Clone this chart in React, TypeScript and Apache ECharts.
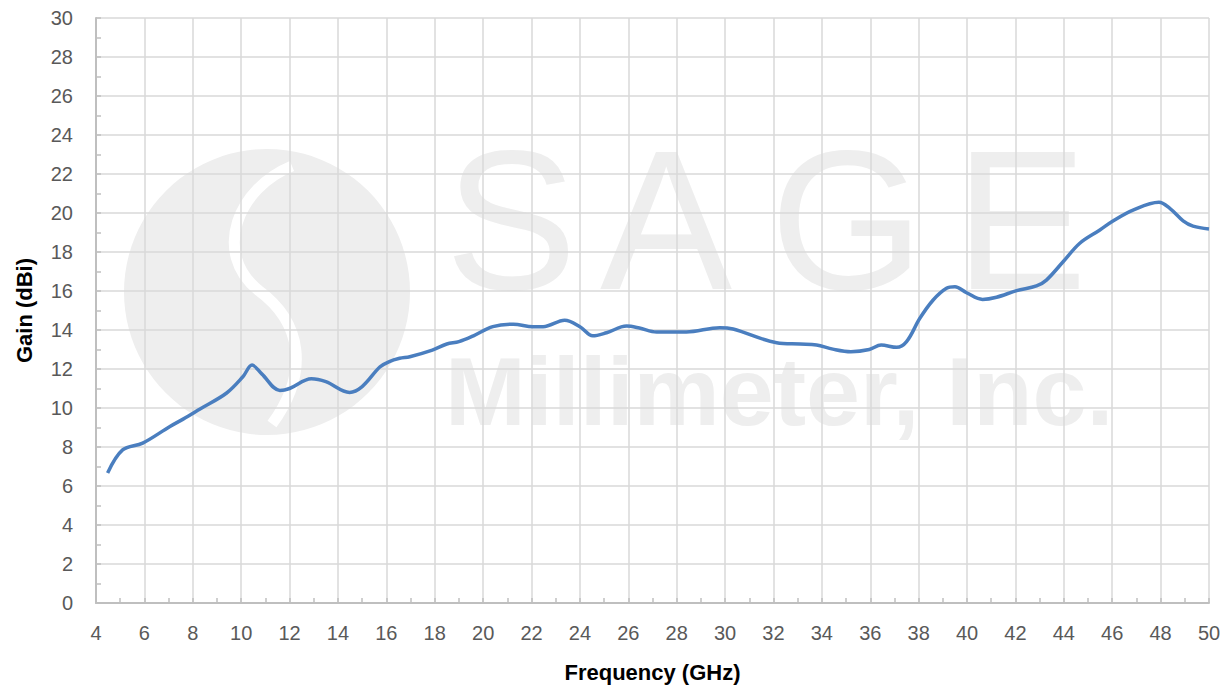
import React, { useEffect, useRef } from "react";
import * as echarts from "echarts";

const freqGHz = [
  4.48, 5.1, 5.93, 7.04, 7.6, 8.3, 9.4, 10.07, 10.45, 10.85, 11.6, 12.0, 12.9, 13.5,
  14.48, 15.0, 15.73, 16.1, 16.55, 16.97, 17.9, 18.5, 19.0, 19.6, 20.4, 21.25, 22.06,
  22.48, 23.37, 24.0, 24.53, 25.1, 25.93, 26.46, 27.17, 28.4, 29.78, 30.33, 32.13,
  33.1, 33.78, 34.45, 35.2, 35.96, 36.45, 37.09, 37.5, 38.05, 38.6, 39.15, 39.5,
  39.98, 40.64, 41.22, 42.05, 42.87, 43.28, 43.97, 44.66, 45.49, 46.03, 46.86, 47.93,
  48.38, 48.93, 49.34, 50.0,
];
const gainDBi = [
  6.67, 7.85, 8.2, 9.04, 9.43, 9.95, 10.77, 11.6, 12.2, 11.75, 10.9, 11.0, 11.5, 11.35,
  10.8, 11.1, 12.1, 12.37, 12.55, 12.63, 12.97, 13.28, 13.4, 13.7, 14.17, 14.3, 14.17,
  14.17, 14.5, 14.17, 13.7, 13.86, 14.2, 14.1, 13.9, 13.9, 14.12, 14.05, 13.35,
  13.28, 13.23, 13.02, 12.89, 13.0, 13.23, 13.11, 13.4, 14.6, 15.54, 16.14, 16.22,
  15.91, 15.57, 15.68, 16.02, 16.26, 16.56, 17.5, 18.45, 19.13, 19.59, 20.15, 20.55,
  20.24, 19.6, 19.33, 19.18,
];

const xTitle = "Frequency (GHz)";
const yTitle = "Gain (dBi)";

const WM = "#eeeeee";

const logoPath =
  "M 292 166 C 238 188, 212 252, 258 290 C 302 322, 310 372, 272 424";

export default function App() {
  const ref = useRef<HTMLDivElement>(null);
  useEffect(() => {
    if (!ref.current) return;
    echarts.graphic.registerShape(
      "sagelogo",
      echarts.graphic.extendPath(logoPath, {}) as any
    );
    const chart = echarts.init(ref.current, null, { renderer: "svg" });
    const letters = [
      { t: "S", x: 445 },
      { t: "A", x: 600 },
      { t: "G", x: 770 },
      { t: "E", x: 955 },
    ];
    chart.setOption({
      animation: false,
      backgroundColor: "#ffffff",
      grid: {
        left: 96,
        top: 18,
        right: 19,
        bottom: 86,
        containLabel: false,
        outerBoundsMode: "none",
      },
      graphic: [
        {
          type: "group",
          z: -10,
          silent: true,
          children: [
            {
              type: "circle",
              shape: { cx: 267, cy: 292, r: 143 },
              style: { fill: WM },
              z: -10,
            },
            {
              type: "sagelogo",
              x: 0,
              y: 0,
              style: { fill: "none", stroke: "#ffffff", lineWidth: 11 },
              z: -9,
            },
            ...letters.map((l) => ({
              type: "text",
              x: l.x,
              y: 121,
              style: {
                text: l.t,
                fill: WM,
                font: "198px 'Liberation Sans', Arial, sans-serif",
                verticalAlign: "top",
              },
              z: -10,
            })),
            {
              type: "text",
              x: 445,
              y: 343,
              style: {
                text: "Millimeter, Inc.",
                fill: WM,
                font: "bold 97px 'Liberation Sans', Arial, sans-serif",
                verticalAlign: "top",
              },
              z: -10,
            },
          ],
        },
      ],
      xAxis: {
        type: "value",
        min: 4,
        max: 50,
        interval: 2,
        name: xTitle,
        nameLocation: "middle",
        nameGap: 58,
        nameTextStyle: {
          fontSize: 22,
          fontWeight: "bold",
          color: "#000000",
          fontFamily: "'Liberation Sans', Arial, sans-serif",
        },
        axisLine: { show: true, lineStyle: { color: "#bfbfbf", width: 2 } },
        axisTick: { show: true, inside: true, length: 5, lineStyle: { color: "#bfbfbf", width: 1.5 } },
        minorTick: { show: true, splitNumber: 2, length: 5, lineStyle: { color: "#bfbfbf", width: 1.5 } },
        axisLabel: {
          color: "#595959",
          fontSize: 20,
          margin: 20,
          fontFamily: "'Liberation Sans', Arial, sans-serif",
        },
        splitLine: { show: true, lineStyle: { color: "#d9d9d9", width: 1.5 } },
      },
      yAxis: {
        type: "value",
        min: 0,
        max: 30,
        interval: 2,
        name: yTitle,
        nameLocation: "middle",
        nameGap: 61,
        nameTextStyle: {
          fontSize: 22,
          fontWeight: "bold",
          color: "#000000",
          fontFamily: "'Liberation Sans', Arial, sans-serif",
        },
        axisLine: { show: true, lineStyle: { color: "#bfbfbf", width: 2 } },
        axisTick: { show: true, inside: true, length: 5, lineStyle: { color: "#bfbfbf", width: 1.5 } },
        minorTick: { show: true, splitNumber: 2, length: 5, lineStyle: { color: "#bfbfbf", width: 1.5 } },
        axisLabel: {
          color: "#595959",
          fontSize: 20,
          margin: 23,
          fontFamily: "'Liberation Sans', Arial, sans-serif",
        },
        splitLine: { show: true, lineStyle: { color: "#d9d9d9", width: 1.5 } },
      },
      series: [
        {
          type: "line",
          data: freqGHz.map((f, i) => [f, gainDBi[i]]),
          showSymbol: false,
          smooth: 0.35,
          lineStyle: { color: "#4a7ebf", width: 3.5 },
          itemStyle: { color: "#4a7ebf" },
          z: 5,
        },
      ],
    });
    return () => chart.dispose();
  }, []);
  return (
    <div
      ref={ref}
      style={{ position: "absolute", left: 0, top: 0, width: 1228, height: 689 }}
    />
  );
}
